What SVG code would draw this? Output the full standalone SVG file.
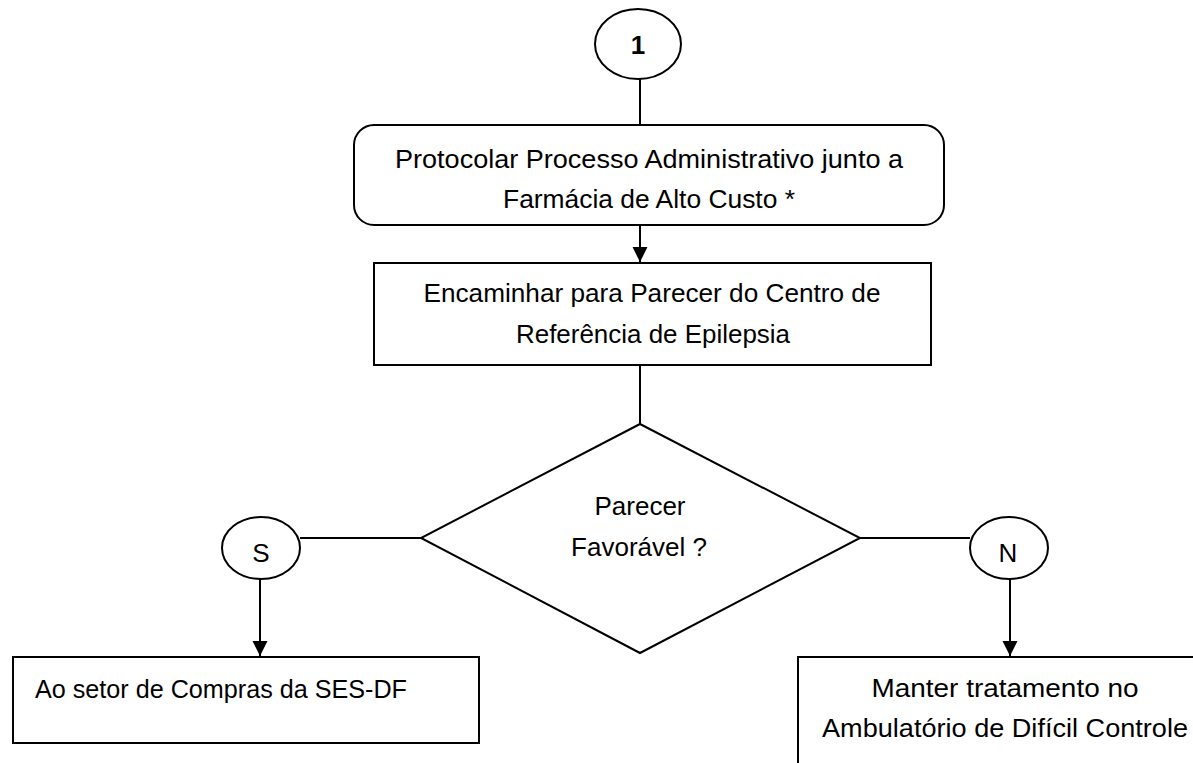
<svg xmlns="http://www.w3.org/2000/svg" width="1193" height="763" viewBox="0 0 1193 763">
<style>
.shape{fill:#fff;stroke:#000;stroke-width:2}
.conn{fill:none;stroke:#000;stroke-width:2}
text{font-family:"Liberation Sans",Arial,sans-serif;font-size:26px;fill:#000}
.c{text-anchor:middle}
.b{font-weight:bold}
</style>
<defs>
<marker id="arr" markerUnits="userSpaceOnUse" markerWidth="16" markerHeight="16" refX="15" refY="7.5" orient="auto">
<path d="M0,0 L15,7.5 L0,15 z" fill="#000"/>
</marker>
</defs>
<rect width="1193" height="763" fill="#fff"/>
<g id="connectors">
<line class="conn" x1="640" y1="79" x2="640" y2="125"/>
<line class="conn" x1="640" y1="225" x2="640" y2="262" marker-end="url(#arr)"/>
<line class="conn" x1="640" y1="365" x2="640" y2="424"/>
<line class="conn" x1="421" y1="538" x2="300" y2="538"/>
<line class="conn" x1="860" y1="538" x2="970" y2="538"/>
<line class="conn" x1="260" y1="579" x2="260" y2="656" marker-end="url(#arr)"/>
<line class="conn" x1="1010" y1="579" x2="1010" y2="656" marker-end="url(#arr)"/>
</g>
<g id="node-1">
<ellipse class="shape" cx="638" cy="44" rx="43" ry="35"/>
<text class="c b" x="638" y="54">1</text>
</g>
<g id="node-protocolar">
<rect class="shape" x="354" y="125" width="590" height="100" rx="20" ry="20"/>
<text class="c" x="649" y="168" textLength="508" lengthAdjust="spacingAndGlyphs">Protocolar Processo Administrativo junto a</text>
<text class="c" x="649" y="208" textLength="292" lengthAdjust="spacingAndGlyphs">Farmácia de Alto Custo *</text>
</g>
<g id="node-encaminhar">
<rect class="shape" x="374" y="263" width="557" height="102"/>
<text class="c" x="652" y="302" textLength="457" lengthAdjust="spacingAndGlyphs">Encaminhar para Parecer do Centro de</text>
<text class="c" x="653" y="343" textLength="274" lengthAdjust="spacingAndGlyphs">Referência de Epilepsia</text>
</g>
<g id="node-decisao">
<polygon class="shape" points="640,424 860,538 640,653 421,538"/>
<text class="c" x="640" y="515">Parecer</text>
<text class="c" x="639" y="556">Favorável ?</text>
</g>
<g id="node-s">
<ellipse class="shape" cx="261" cy="548" rx="39" ry="31"/>
<text class="c" x="261" y="562">S</text>
</g>
<g id="node-n">
<ellipse class="shape" cx="1009" cy="548" rx="39" ry="31"/>
<text class="c" x="1008" y="562">N</text>
</g>
<g id="node-compras">
<rect class="shape" x="13" y="657" width="466" height="86"/>
<text x="35" y="698" textLength="372" lengthAdjust="spacingAndGlyphs">Ao setor de Compras da SES-DF</text>
</g>
<g id="node-manter">
<rect class="shape" x="798" y="657" width="420" height="130"/>
<text class="c" x="1005" y="697" textLength="267" lengthAdjust="spacingAndGlyphs">Manter tratamento no</text>
<text class="c" x="1005" y="737" textLength="366" lengthAdjust="spacingAndGlyphs">Ambulatório de Difícil Controle</text>
</g>
</svg>
